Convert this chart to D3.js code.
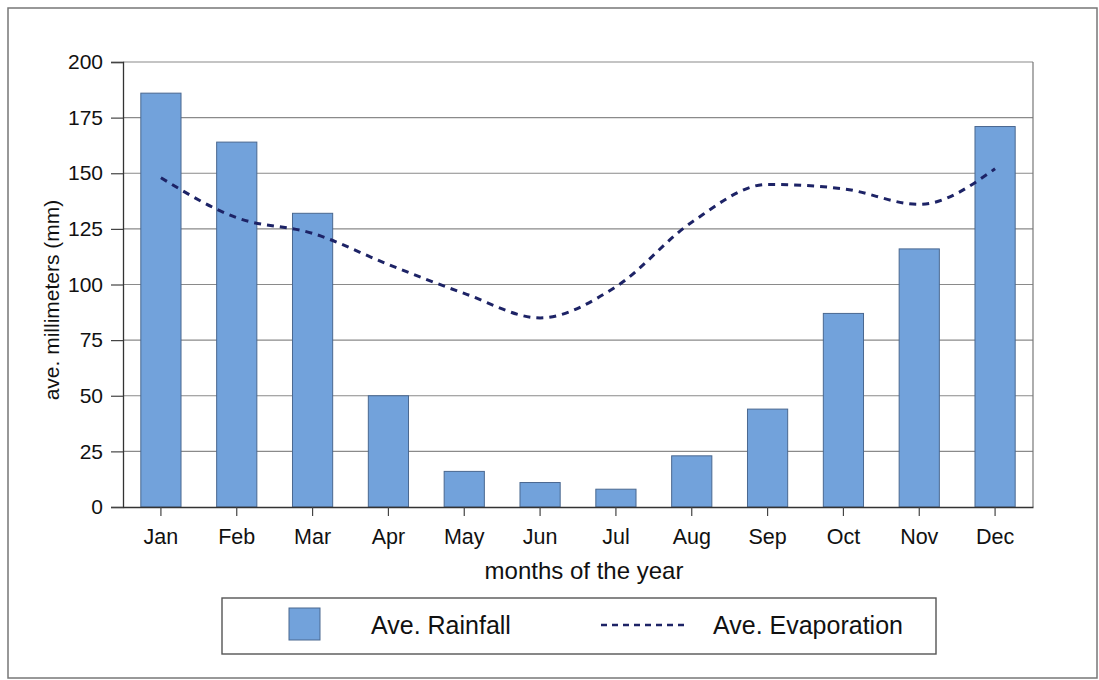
<!DOCTYPE html>
<html>
<head>
<meta charset="utf-8">
<script src="https://cdn.jsdelivr.net/npm/d3@7"></script>
<style>
  html, body { margin: 0; padding: 0; background: #fff; }
  svg { display: block; font-family: "Liberation Sans", Arial, sans-serif; }
</style>
</head>
<body>
<svg id="chart" width="1099" height="680"></svg>
<script>
// Monthly climate data
const months = ["Jan", "Feb", "Mar", "Apr", "May", "Jun", "Jul", "Aug", "Sep", "Oct", "Nov", "Dec"];
const rainfall = [186, 164, 132, 50, 16, 11, 8, 23, 44, 87, 116, 171];
const evaporation = [148, 130, 123, 109, 96, 85, 99, 128, 145, 143, 136, 152];
const yTicks = [0, 25, 50, 75, 100, 125, 150, 175, 200];

const svg = d3.select("#chart");

const plot = { left: 123, right: 1033, top: 62, bottom: 507 };

const x = d3.scaleBand()
  .domain(months)
  .range([plot.left, plot.right])
  .paddingInner(0.47)
  .paddingOuter(0.235);

const y = d3.scaleLinear()
  .domain([0, 200])
  .range([plot.bottom, plot.top]);

// outer frame
svg.append("rect")
  .attr("x", 8).attr("y", 8)
  .attr("width", 1089).attr("height", 670)
  .attr("fill", "none")
  .attr("stroke", "#777")
  .attr("stroke-width", 1.5);

// horizontal gridlines
svg.append("g")
  .selectAll("line")
  .data(yTicks.filter(d => d > 0))
  .join("line")
  .attr("x1", plot.left).attr("x2", plot.right)
  .attr("y1", d => y(d)).attr("y2", d => y(d))
  .attr("stroke", "#8a8a8a")
  .attr("stroke-width", 1.2);

// right edge of plot area
svg.append("line")
  .attr("x1", plot.right).attr("x2", plot.right)
  .attr("y1", plot.top).attr("y2", plot.bottom)
  .attr("stroke", "#777").attr("stroke-width", 1.2);

// rainfall bars
svg.append("g")
  .selectAll("rect")
  .data(rainfall)
  .join("rect")
  .attr("x", (d, i) => x(months[i]))
  .attr("y", d => y(d))
  .attr("width", x.bandwidth())
  .attr("height", d => y(0) - y(d))
  .attr("fill", "#72a2db")
  .attr("stroke", "#4a6890")
  .attr("stroke-width", 1);

// evaporation line
const line = d3.line()
  .x((d, i) => x(months[i]) + x.bandwidth() / 2)
  .y(d => y(d))
  .curve(d3.curveMonotoneX);

svg.append("path")
  .datum(evaporation)
  .attr("d", line)
  .attr("fill", "none")
  .attr("stroke", "#1d2366")
  .attr("stroke-width", 3)
  .attr("stroke-dasharray", "7,6");

// y axis
const yAxis = d3.axisLeft(y)
  .tickValues(yTicks)
  .tickSize(12)
  .tickPadding(8);

const gy = svg.append("g")
  .attr("transform", `translate(${plot.left},0)`)
  .call(yAxis);
gy.select(".domain").attr("stroke", "#333").attr("stroke-width", 1.3);
gy.selectAll(".tick line").attr("stroke", "#444").attr("stroke-width", 1.2);
gy.selectAll(".tick text")
  .attr("fill", "#111")
  .style("font-size", "21px");

// x axis
const xAxis = d3.axisBottom(x)
  .tickSize(9)
  .tickSizeOuter(0)
  .tickPadding(13);

const gx = svg.append("g")
  .attr("transform", `translate(0,${plot.bottom})`)
  .call(xAxis);
gx.select(".domain").attr("stroke", "#333").attr("stroke-width", 1.3);
gx.selectAll(".tick line").attr("stroke", "#444").attr("stroke-width", 1.2);
gx.selectAll(".tick text")
  .attr("fill", "#111")
  .style("font-size", "21.5px");

// axis titles
svg.append("text")
  .attr("x", 584).attr("y", 579)
  .attr("text-anchor", "middle")
  .attr("fill", "#111")
  .style("font-size", "24px")
  .text("months of the year");

svg.append("text")
  .attr("transform", "translate(59,300) rotate(-90)")
  .attr("text-anchor", "middle")
  .attr("fill", "#111")
  .style("font-size", "21px")
  .text("ave. millimeters (mm)");

// legend
const legend = svg.append("g");
legend.append("rect")
  .attr("x", 222).attr("y", 598)
  .attr("width", 714).attr("height", 56)
  .attr("fill", "#fff")
  .attr("stroke", "#555")
  .attr("stroke-width", 1.4);

legend.append("rect")
  .attr("x", 289).attr("y", 608)
  .attr("width", 31).attr("height", 32)
  .attr("fill", "#72a2db")
  .attr("stroke", "#4a6890")
  .attr("stroke-width", 1);

legend.append("text")
  .attr("x", 371).attr("y", 634)
  .attr("fill", "#111")
  .style("font-size", "25px")
  .text("Ave. Rainfall");

legend.append("line")
  .attr("x1", 601).attr("x2", 684)
  .attr("y1", 625).attr("y2", 625)
  .attr("stroke", "#1d2366")
  .attr("stroke-width", 2.5)
  .attr("stroke-dasharray", "6,5");

legend.append("text")
  .attr("x", 713).attr("y", 634)
  .attr("fill", "#111")
  .style("font-size", "25px")
  .text("Ave. Evaporation");
</script>
</body>
</html>
